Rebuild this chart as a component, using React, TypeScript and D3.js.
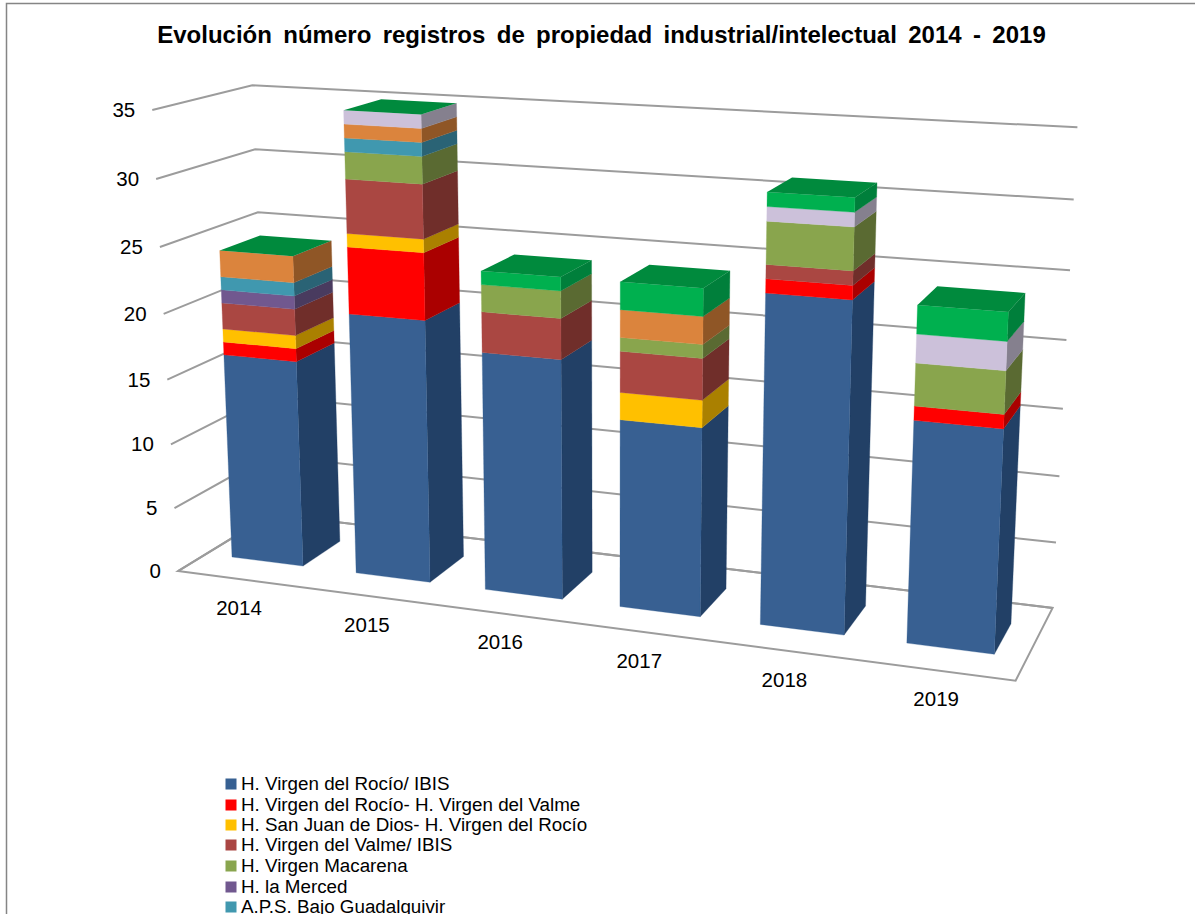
import React from "react";
import * as d3 from "d3";

const title = "Evolución número registros de propiedad industrial/intelectual 2014 - 2019";
const years = ["2014", "2015", "2016", "2017", "2018", "2019"];
const ticks = [0, 5, 10, 15, 20, 25, 30, 35];

const rocioIbis = [16, 20, 18, 14, 24, 16];
const rocioValme = [1, 5, 0, 0, 1, 1];
const sanJuan = [1, 1, 0, 2, 0, 0];
const valmeIbis = [2, 4, 3, 3, 1, 0];
const macarena = [0, 2, 2, 1, 3, 3];
const merced = [1, 0, 0, 0, 0, 0];
const bajoGuadalquivir = [1, 1, 0, 0, 0, 0];
const orangeSeries = [2, 1, 0, 2, 0, 0];
const lilacSeries = [0, 1, 0, 0, 1, 2];
const greenSeries = [0, 0, 1, 2, 1, 2];

const seriesValues = [rocioIbis, rocioValme, sanJuan, valmeIbis, macarena, merced, bajoGuadalquivir, orangeSeries, lilacSeries, greenSeries];
const frontColors = ["#376092", "#FF0000", "#FFC000", "#AA4643", "#89A54E", "#71588F", "#4198AF", "#DB843D", "#CCC1DA", "#00B050"];
const sideColors = ["#213F66", "#AA0000", "#AA8000", "#6F2E2C", "#5A6B33", "#4A3A5E", "#2A6475", "#8F5628", "#85808E", "#007F3A"];
const topColor = "#008A3E";
const legendLabels = [
  "H. Virgen del Rocío/ IBIS",
  "H. Virgen del Rocío- H. Virgen del Valme",
  "H. San Juan de Dios- H. Virgen del Rocío",
  "H. Virgen del Valme/ IBIS",
  "H. Virgen Macarena",
  "H. la Merced",
  "A.P.S. Bajo Guadalquivir",
];
const legendRows = [784, 805, 825, 845, 866, 887, 907];

// perspective projection of (category position, value, depth) onto the page
const projectWith = (lean: number, shrink: number) => (s: number, v: number, d: number): [number, number] => {
  const w = 1 - 0.0197 * s - shrink * v + 0.0322 * d;
  return [(117.1 * s - lean * v + 47.4 * d + 232) / w, (4.55 * s - 13.1 * v - 7 * d + 557) / w];
};
const project = projectWith(0.8, 0.00131);
const projectWall = projectWith(0.95, 0.0015);

const band = d3.scaleBand<string>().domain(years).range([-0.2115, 5.7885]).paddingInner(0.423).paddingOuter(0.2115);
const valueScale = d3.scaleLinear().domain([0, 35]).range([0, 35]);
const floorFront = -0.684;
const floorBack = 1.684;
const [sMin, sMax] = band.range();

const rows = years.map((y, i) => {
  const r: Record<string, number> = {};
  seriesValues.forEach((sv, k) => (r[k] = sv[i]));
  return r;
});
const stacked = d3.stack<Record<string, number>>().keys(seriesValues.map((_, k) => String(k)))(rows);
const line = d3.line();
const quad = (p: [number, number][]) => line(p)! + "Z";
const gridColor = "#9c9c9c";
const sansFont = "'Liberation Sans', Arial, sans-serif";

export default function App() {
  return (
    <svg width={1195} height={914} style={{ position: "absolute", left: 0, top: 0, display: "block", background: "#fff" }} fontFamily={sansFont}>
      <defs>
        <filter id="soft" x="-5%" y="-5%" width="110%" height="110%">
          <feGaussianBlur stdDeviation="0.35" />
        </filter>
      </defs>
      <path d="M1195,3.5H6.5V914" fill="none" stroke="#858585" strokeWidth={1.5} />
      <text x={601.5} y={43} textAnchor="middle" fontSize={24} fontWeight={700} wordSpacing={4.7} fill="#000">{title}</text>

      <g fill="none" stroke={gridColor} strokeWidth={2} filter="url(#soft)">
        {ticks.map((t) => {
          const v = valueScale(t);
          const pts = [projectWall(sMin, v, floorFront), projectWall(sMin, v, floorBack), projectWall(sMax, v, floorBack)];
          return <path key={t} d={line(pts)!} />;
        })}
        <path d={quad([projectWall(sMin, 0, floorFront), projectWall(sMax, 0, floorFront), projectWall(sMax, 0, floorBack), projectWall(sMin, 0, floorBack)])} />
      </g>

      <g filter="url(#soft)">
        {years.map((y, i) => {
          const s0 = band(y)!;
          const s1 = s0 + band.bandwidth();
          const total = stacked[stacked.length - 1][i][1];
          return (
            <g key={y}>
              {stacked.map((layer, k) => {
                const a = valueScale(layer[i][0]);
                const b = valueScale(layer[i][1]);
                if (b === a) return null;
                return (
                  <g key={k}>
                    <path d={quad([project(s1, a, 0), project(s1, a, 1), project(s1, b, 1), project(s1, b, 0)])} fill={sideColors[k]} stroke={sideColors[k]} strokeWidth={0.3} />
                    <path d={quad([project(s0, a, 0), project(s1, a, 0), project(s1, b, 0), project(s0, b, 0)])} fill={frontColors[k]} stroke={frontColors[k]} strokeWidth={0.3} />
                  </g>
                );
              })}
              <path d={quad([project(s0, valueScale(total), 0), project(s1, valueScale(total), 0), project(s1, valueScale(total), 1), project(s0, valueScale(total), 1)])} fill={topColor} />
            </g>
          );
        })}
      </g>

      <g fontSize={20.5} fill="#000">
        {ticks.map((t) => {
          const [x, y] = projectWall(sMin, valueScale(t), floorFront);
          return <text key={t} x={x - 17} y={y + 7} textAnchor="end">{t}</text>;
        })}
        {years.map((y) => {
          const c = band(y)! + band.bandwidth() / 2;
          const [px, py] = projectWall(c, 0, floorFront);
          return <text key={y} x={px - 1} y={py + 36} textAnchor="middle">{y}</text>;
        })}
      </g>

      <g fontSize={18.8} fill="#000">
        {legendLabels.map((l, i) => (
          <g key={l}>
            <rect x={225.5} y={legendRows[i] - 5.5} width={11} height={11} fill={frontColors[i]} />
            <text x={241} y={legendRows[i] + 6}>{l}</text>
          </g>
        ))}
      </g>
    </svg>
  );
}
